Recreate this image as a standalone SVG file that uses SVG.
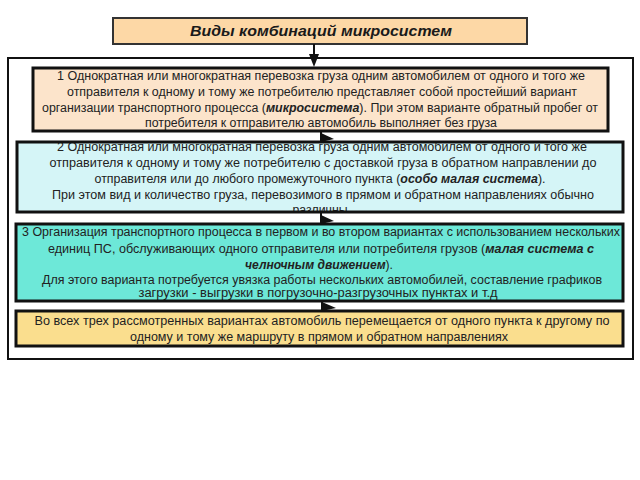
<svg xmlns="http://www.w3.org/2000/svg" width="640" height="480" viewBox="0 0 640 480">
<style>
.t{font-family:"Liberation Sans",Arial,sans-serif;font-size:12px;fill:#222;text-anchor:middle}
.b{font-weight:bold;font-style:italic}
.title{font-family:"Liberation Sans",Arial,sans-serif;font-size:15px;font-weight:bold;font-style:italic;fill:#1a1a1a;text-anchor:middle}
.bd{fill:none;stroke:#111;stroke-width:3}
.ln{stroke:#111;stroke-width:2;fill:none}
.ah{fill:#111}
</style>
<rect width="640" height="480" fill="#fff"/>
<g id="frame">
<rect x="8" y="58" width="625" height="301" fill="none" stroke="#111" stroke-width="2"/>
</g>
<g id="title">
<rect x="113" y="18" width="414" height="26" fill="#FDD8A6" stroke="#333" stroke-width="2"/>
<text class="title" x="321" y="36" textLength="262" lengthAdjust="spacingAndGlyphs">Виды комбинаций микросистем</text>
</g>
<g id="box1">
<rect x="33" y="68" width="575" height="63" fill="#FCE4CB"/>
<text class="t" x="321" y="80" textLength="528" lengthAdjust="spacingAndGlyphs">1 Однократная или многократная перевозка груза одним автомобилем от одного и  того же</text>
<text class="t" x="322" y="96" textLength="510" lengthAdjust="spacingAndGlyphs">отправителя к одному и тому же потребителю  представляет собой простейший вариант</text>
<text class="t" x="320" y="111.5" textLength="556" lengthAdjust="spacingAndGlyphs">организации транспортного процесса (<tspan class="b">микросистема</tspan>). При этом варианте обратный пробег от</text>
<text class="t" x="321" y="126.5" textLength="352" lengthAdjust="spacingAndGlyphs">потребителя к отправителю автомобиль выполняет без груза</text>
<rect class="bd" x="33" y="68" width="575" height="63"/>
</g>
<g id="box2">
<rect x="17" y="142" width="606" height="70" fill="#D5F5F7"/>
<text class="t" x="322" y="151" textLength="530" lengthAdjust="spacingAndGlyphs">2 Однократная или многократная перевозка груза одним автомобилем от одного и  того же</text>
<text class="t" x="323" y="167" textLength="547" lengthAdjust="spacingAndGlyphs">отправителя к одному и тому же потребителю с доставкой груза в обратном направлении до</text>
<text class="t" x="320" y="183" textLength="451" lengthAdjust="spacingAndGlyphs">отправителя или до любого промежуточного пункта (<tspan class="b">особо малая система</tspan>).</text>
<text class="t" x="323" y="199" textLength="542" lengthAdjust="spacingAndGlyphs">При этом вид и количество груза, перевозимого в прямом и обратном направлениях обычно</text>
<text class="t" x="320" y="214" textLength="55" lengthAdjust="spacingAndGlyphs">различны</text>
<rect x="17" y="212" width="606" height="10" fill="#fff"/>
<rect class="bd" x="17" y="142" width="606" height="70"/>
</g>
<g id="box3">
<rect x="16" y="224" width="607" height="77" fill="#6DE8D8"/>
<text class="t" x="321" y="236" textLength="598" lengthAdjust="spacingAndGlyphs">3 Организация транспортного процесса в первом и во втором вариантах с использованием нескольких</text>
<text class="t" x="321" y="252.5" textLength="546" lengthAdjust="spacingAndGlyphs">единиц ПС, обслуживающих одного отправителя или потребителя грузов (<tspan class="b">малая система с</tspan></text>
<text class="t" x="319" y="268.5" textLength="148" lengthAdjust="spacingAndGlyphs"><tspan class="b">челночным движением</tspan>).</text>
<text class="t" x="322" y="283.5" textLength="560" lengthAdjust="spacingAndGlyphs">Для этого варианта потребуется увязка работы нескольких автомобилей, составление графиков</text>
<text class="t" x="318" y="297" textLength="359" lengthAdjust="spacingAndGlyphs">загрузки - выгрузки в погрузочно-разгрузочных пунктах и т.д</text>
<rect class="bd" x="16" y="224" width="607" height="77"/>
</g>
<g id="box4">
<rect x="16" y="311" width="607" height="35" fill="#FADE8E"/>
<text class="t" x="322" y="325" textLength="575" lengthAdjust="spacingAndGlyphs">Во всех трех рассмотренных вариантах автомобиль перемещается от одного пункта к другому по</text>
<text class="t" x="319" y="340.5" textLength="378" lengthAdjust="spacingAndGlyphs">одному и тому же маршруту в прямом и обратном направлениях</text>
<rect class="bd" x="16" y="311" width="607" height="35"/>
</g>
<g id="connectors">
<line class="ln" x1="314" y1="44" x2="314" y2="56"/>
<polygon class="ah" points="309,54 319,54 314,67"/>
<line class="ln" x1="321" y1="132" x2="321" y2="142"/>
<polygon class="ah" points="321,133 334,139 321,142"/>
<line class="ln" x1="321" y1="213" x2="321" y2="224"/>
<polygon class="ah" points="321,215 334,221 321,224"/>
<line class="ln" x1="322" y1="302" x2="322" y2="311"/>
<polygon class="ah" points="322,302 336,308 322,311"/>
</g>
</svg>
